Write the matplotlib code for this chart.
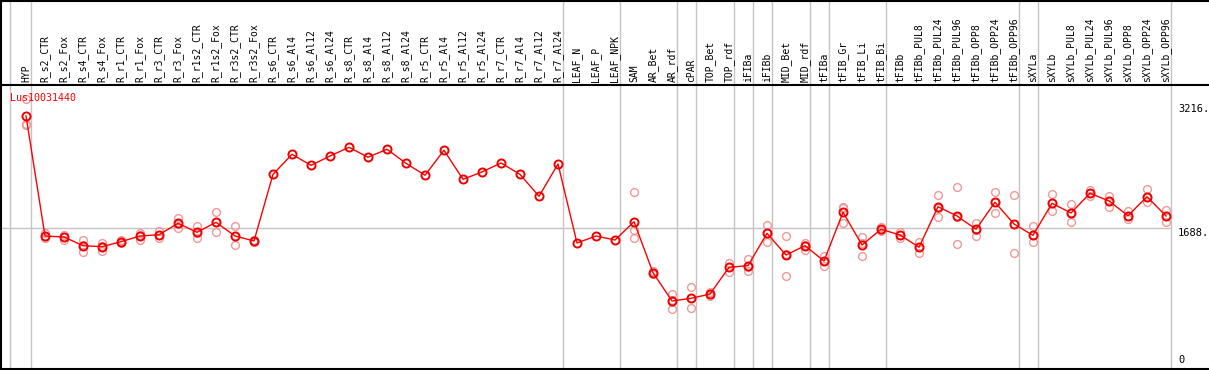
import matplotlib.pyplot as plt
import numpy as np

gene = "Lus10031440"

samples = ["HYP", "R_s2_CTR", "R_s2_Fox", "R_s4_CTR", "R_s4_Fox", "R_r1_CTR", "R_r1_Fox",
           "R_r3_CTR", "R_r3_Fox", "R_r1s2_CTR", "R_r1s2_Fox", "R_r3s2_CTR", "R_r3s2_Fox",
           "R_s6_CTR", "R_s6_Al4", "R_s6_Al12", "R_s6_Al24", "R_s8_CTR", "R_s8_Al4",
           "R_s8_Al12", "R_s8_Al24", "R_r5_CTR", "R_r5_Al4", "R_r5_Al12", "R_r5_Al24",
           "R_r7_CTR", "R_r7_Al4", "R_r7_Al12", "R_r7_Al24", "LEAF_N", "LEAF_P", "LEAF_NPK",
           "SAM", "AR_Bet", "AR_rdf", "cPAR", "TOP_Bet", "TOP_rdf", "iFIBa", "iFIBb",
           "MID_Bet", "MID_rdf", "tFIBa", "tFIB_Gr", "tFIB_Li", "tFIB_Bi", "tFIBb",
           "tFIBb_PUL8", "tFIBb_PUL24", "tFIBb_PUL96", "tFIBb_OPP8", "tFIBb_OPP24",
           "tFIBb_OPP96", "sXYLa", "sXYLb", "sXYLb_PUL8", "sXYLb_PUL24", "sXYLb_PUL96",
           "sXYLb_OPP8", "sXYLb_OPP24", "sXYLb_OPP96"]

means = [3020, 1593, 1581, 1478, 1466, 1525, 1593, 1608, 1744, 1637, 1756, 1593, 1534,
         2326, 2564, 2433, 2544, 2647, 2529, 2624, 2457, 2315, 2612, 2267, 2354, 2461,
         2326, 2065, 2449, 1510, 1593, 1545, 1763, 1157, 820, 852, 903, 1221, 1240, 1625,
         1367, 1478, 1296, 1875, 1486, 1673, 1605, 1459, 1941, 1831, 1673, 1994, 1736,
         1601, 1982, 1866, 2101, 2009, 1834, 2060, 1831]

# replicate values (empty where there are none)
reps = [[3216, 2912, 2930], [1629, 1569, 1590], [1581, 1545, 1600], [1545, 1406, 1480],
        [1513, 1418, 1470], [1540, 1510, 1525], [1632, 1545, 1600], [1652, 1569, 1600],
        [1807, 1685, 1740], [1712, 1573, 1630], [1875, 1637, 1756], [1712, 1482, 1590],
        [1545, 1525, 1534]] + [[] for _ in range(19)] + [
        [2120, 1664, 1566], [1180, 1140, 1150], [903, 722, 830], [983, 733, 850],
        [927, 880, 900], [1268, 1169, 1225], [1316, 1180, 1230], [1724, 1525, 1625],
        [1593, 1121, 1380], [1510, 1427, 1490], [1355, 1236, 1300], [1941, 1751, 1930],
        [1585, 1355, 1510], [1700, 1652, 1670], [1644, 1566, 1605], [1525, 1394, 1460],
        [2080, 1815, 1930], [2179, 1494, 1820], [1751, 1597, 1670], [2116, 1863, 2000],
        [2080, 1387, 1740], [1712, 1518, 1600], [2092, 1890, 1980], [1973, 1759, 1866],
        [2140, 2068, 2100], [2068, 1934, 2010], [1890, 1792, 1834], [2152, 1994, 2060],
        [1902, 1763, 1831]]

group_ends = [-1, 0, 28, 31, 34, 35, 37, 38, 39, 41, 42, 45, 52, 53, 60]
ymax_lab = 3216
ymid_lab = 1688

W, H = 1209, 370
fig = plt.figure(figsize=(W / 100, H / 100), dpi=100)
mono = "DejaVu Sans Mono"

xlim = (-26 / 19, (W - 26) / 19)
hdr = 85
ax = fig.add_axes([0, 0, 1, (H - hdr) / H])
axh = fig.add_axes([0, (H - hdr) / H, 1, hdr / H])
for a in (ax, axh):
    a.set_xlim(*xlim)
    a.axis("off")
ax.set_ylim(0, (H - hdr) / (142 / 1688))
axh.set_ylim(0, 1)

x = np.arange(len(samples))
for ge in group_ends:
    xv = ge + 0.237 if ge >= 0 else -0.84
    for a in (ax, axh):
        a.axvline(xv, color="#c4c4c4", lw=1, zorder=1)

ax.plot([xlim[0], 60.237], [ymid_lab, ymid_lab], color="#c4c4c4", lw=1, zorder=1)

for i, r in enumerate(reps):
    if r:
        ax.plot([i] * len(r), r, "o", ms=5.6, mfc="none", mec="#f09898", mew=1.0, zorder=2)

ax.plot(x, means, "-", color="#ff0000", lw=1, zorder=3)
ax.plot(x, means, "o", ms=5.8, mfc="none", mec="#ee0000", mew=1.4, zorder=4)

for i, s in enumerate(samples):
    axh.text(i, 0.03, s, rotation=90, ha="center", va="bottom", fontsize=7,
             family=mono, color="black")

ax.text(-0.84, 3230, gene, color="#ff0000", fontsize=7.2, family=mono,
        ha="left", va="center")

xl = (1178 - 26) / 19
ax.text(xl, ymax_lab - 50, str(ymax_lab) + ".", fontsize=7.5, family=mono, va="top", ha="left")
ax.text(xl, ymid_lab, str(ymid_lab) + ".", fontsize=7.5, family=mono, va="top", ha="left")
ax.text(xl, 60, "0", fontsize=7.5, family=mono, va="bottom", ha="left")

# borders
fig.add_artist(plt.Line2D([0, 1], [1 - 1 / H, 1 - 1 / H], color="black", lw=1.5))
fig.add_artist(plt.Line2D([0, 1], [(H - hdr) / H, (H - hdr) / H], color="black", lw=1.5))
fig.add_artist(plt.Line2D([0, 1], [1 / H, 1 / H], color="black", lw=1.5))
fig.add_artist(plt.Line2D([1 / W, 1 / W], [0, 1], color="black", lw=1.5))

fig.savefig("out.png", dpi=100)
